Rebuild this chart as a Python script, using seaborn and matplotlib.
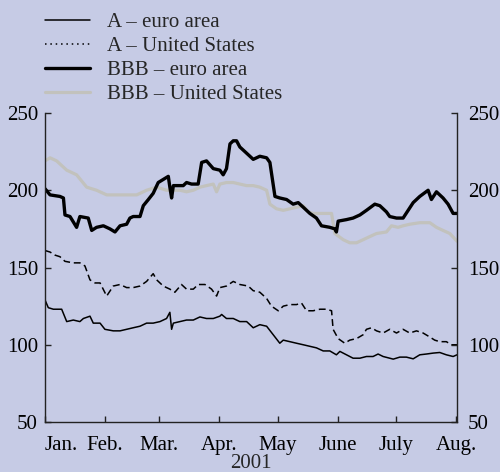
import numpy as np
import pandas as pd
import matplotlib
matplotlib.use("Agg")
import matplotlib.pyplot as plt
from matplotlib.lines import Line2D
import seaborn as sns

# ---------------- data (days after 1 Jan 2001, basis points) ----------------
bbb_ea_day = [0, 2.6, 7.7, 9.5, 10.3, 12.9, 16.3, 18, 22.3, 24.1, 26.6, 30.1, 33.5, 36.1, 38.7,
              42.1, 43.8, 45.5, 49, 50.7, 53.3, 55.8, 58.4, 61, 63.6, 64.4, 65.3, 66.2, 67.9,
              71.3, 73, 75.6, 79, 80.8, 83.3, 86.8, 90.2, 91.9, 93.6, 95.4, 97.1, 98.8, 100.5,
              103.1, 107.4, 110.8, 114.3, 116, 118.6, 121.1, 124.6, 128, 130.6, 133.2, 136.6,
              140, 142.6, 146.9, 149.5, 150.3, 151.2, 155.5, 158.9, 162.4, 165.8, 170.1, 172.7,
              176.1, 177.8, 181.3, 184.7, 187.3, 189.9, 193.3, 197.6, 199.3, 201.9, 205.3,
              207.9, 210.5, 212.5]
bbb_ea_val = [201, 197, 196, 195, 184, 183, 176, 183, 182, 174, 176, 177, 175, 173, 177,
              178, 182, 183, 183, 190, 194, 198, 205, 207, 209, 202, 195, 203, 203,
              203, 205, 204, 204, 218, 219, 214, 213, 210, 214, 230, 232, 232, 228,
              225, 220, 222, 221, 218, 196, 195, 194, 191, 192, 189, 185,
              182, 177, 176, 175, 173, 180, 181, 182, 184, 187, 191, 190,
              186, 183, 182, 182, 187, 192, 196, 200, 194, 199, 195,
              191, 185, 185]

bbb_us_day = [0, 2.6, 6, 11.2, 16.3, 21.5, 26.6, 31.8, 36.9, 42.1, 47.3, 52.4, 57.6, 62.7,
              66.2, 69.6, 73, 76.5, 79.9, 83.3, 86.8, 88.5, 90.2, 93.6, 97.1, 100.5, 104,
              107.4, 110.8, 114.3, 116, 119.4, 122.9, 126.3, 129.7, 133.2, 135.7, 138.3,
              141.8, 145.2, 147.8, 149.5, 153.8, 157.2, 160.7, 164.1, 167.5, 171, 176.1,
              178.7, 182.1, 184.7, 188.1, 193.3, 198.5, 201.9, 205.3, 208.8, 212.5]
bbb_us_val = [219, 221, 219, 213, 210, 202, 200, 197, 197, 197, 197, 200, 202, 200,
              200, 200, 199, 200, 202, 203, 204, 199, 204, 205, 205, 204, 203,
              203, 202, 200, 191, 188, 187, 188, 189, 190, 186, 185,
              185, 185, 185, 172, 168, 166, 166, 168, 170, 172, 173,
              177, 176, 177, 178, 179, 179, 176, 174, 172, 167]

a_us_day = [0, 2.6, 5.2, 7.7, 10.3, 14.6, 18, 20.6, 23.2, 25.8, 28.4, 31.8, 35.2, 38.7, 42.1,
            45.5, 49, 52.4, 55.8, 57.6, 61, 64.4, 67, 70.4, 73, 76.5, 79, 82.5, 85.9, 88.5,
            90.2, 93.6, 97.1, 100.5, 104.8, 107.4, 110.8, 114.3, 116.8, 120.3, 122.9, 126.3,
            129.7, 132.3, 134.9, 138.3, 141.8, 145.2, 147.8, 148.6, 151.2, 154.6, 157.2,
            160.7, 164.1, 165.8, 168.4, 171, 174.4, 177.8, 181.3, 184.7, 188.1, 191.6, 195,
            198.5, 201, 203.6, 207, 209.6, 212.5]
a_us_val = [161, 160, 158, 157, 154, 153, 153, 151, 142, 140, 140, 131.5, 138, 139, 137,
            137, 138, 141, 146, 142, 138, 136, 134, 139, 136, 136, 139, 139, 136, 131.5,
            137, 138, 141, 139, 138, 135, 134, 130, 125, 122, 125, 126,
            126, 127, 122, 122, 123, 123, 122, 110, 104, 101, 103,
            104, 106.5, 110, 111, 109, 107.6, 110, 107.6, 110, 107.6, 109, 107.6,
            105, 103, 102, 102, 100, 100]

a_ea_day = [0, 1.7, 4.3, 8.6, 11.2, 14.6, 18, 19.8, 23.2, 24.9, 28.4, 30.9, 35.2, 38.7, 42.1,
            45.5, 49, 52.4, 55.8, 59.3, 62.7, 64.4, 65.3, 66.2, 69.6, 73, 76.5, 79.9, 83.3,
            86.8, 90.2, 91.1, 93.6, 97.1, 100.5, 104, 107.4, 110.8, 114.3, 117.7, 121.1,
            122.9, 126.3, 129.7, 133.2, 136.6, 140, 143.5, 146.9, 150.3, 152.1, 155.5, 158.9,
            162.4, 165.8, 169.2, 171.8, 174.4, 177.8, 179.6, 183, 186.4, 189.9, 193.3, 196.7,
            200.2, 203.6, 207, 210.5, 212.5]
a_ea_val = [129, 124, 123, 123, 115, 116, 115, 117, 118.5, 114, 114, 110, 109, 109, 110,
            111, 112, 114, 114, 115, 117, 121, 110, 114, 115, 116, 116, 118, 117,
            117, 118.5, 119.6, 117, 117, 115, 115, 111, 113, 112, 106.5, 101,
            103, 102, 101, 100, 99, 98, 96, 96, 93.5, 95.7, 93.5, 91.3,
            91.3, 92.4, 92.4, 94, 92.4, 91.3, 90.7, 92, 92, 90.9, 93.5, 94,
            94.6, 95, 93.5, 92.4, 93.5]

series_labels = ["A \u2013 euro area", "A \u2013 United States",
                 "BBB \u2013 euro area", "BBB \u2013 United States"]
month_labels = ["Jan.", "Feb.", "Mar.", "Apr.", "May", "June", "July", "Aug."]
y_ticks = [50, 100, 150, 200, 250]
year_label = "2001"

# ---------------- style ----------------
BG = "#c6cbe5"
GREY = "#c2c2bd"
FS = 15
sns.set_style("white")
plt.rcParams["font.family"] = ["Liberation Serif", "DejaVu Serif"]
plt.rcParams["font.size"] = FS

base = pd.Timestamp("2001-01-01")


def to_df(days, vals):
    return pd.DataFrame({"date": base + pd.to_timedelta(np.array(days), unit="D"),
                         "value": vals})


fig = plt.figure(figsize=(5.0, 4.72), dpi=100, facecolor=BG)
ax = fig.add_axes([0.09, 0.1059, 0.824, 0.6547], facecolor=BG)

sns.lineplot(data=to_df(bbb_us_day, bbb_us_val), x="date", y="value", ax=ax,
             color=GREY, linewidth=2.3, legend=False)
sns.lineplot(data=to_df(a_us_day, a_us_val), x="date", y="value", ax=ax,
             color="black", linewidth=1.1, linestyle=(0, (4.5, 2.5)), legend=False)
sns.lineplot(data=to_df(a_ea_day, a_ea_val), x="date", y="value", ax=ax,
             color="black", linewidth=1.1, legend=False)
sns.lineplot(data=to_df(bbb_ea_day, bbb_ea_val), x="date", y="value", ax=ax,
             color="black", linewidth=2.4, legend=False)

# axes
ax.set_ylim(50, 250)
ax.set_yticks(y_ticks)
ax.set_xlim(base, base + pd.Timedelta(days=212.5))
months = [base + pd.DateOffset(months=i) for i in range(8)]
ax.set_xticks(months)
ax.set_xticklabels(month_labels)
for lbl in ax.get_xticklabels():
    lbl.set_ha("center")
ax.get_xticklabels()[0].set_ha("left")

ax.set_xlabel(year_label, labelpad=-1, fontsize=FS)
ax.set_ylabel("")

for side in ["left", "right", "bottom"]:
    ax.spines[side].set_visible(True)
    ax.spines[side].set_color("#222222")
    ax.spines[side].set_linewidth(1.0)
ax.spines["top"].set_visible(False)

ax.tick_params(axis="both", direction="in", length=4, width=1.0, color="#222222",
               labelsize=FS, labelcolor="black")
ax.tick_params(axis="y", left=True, right=False, labelleft=True, labelright=False, pad=5)
ax.tick_params(axis="x", bottom=True, pad=10)
ax.grid(False)

# right axis labels (same scale)
ax2 = ax.twinx()
ax2.set_ylim(ax.get_ylim())
ax2.set_yticks(y_ticks)
for side in ["left", "top", "bottom", "right"]:
    ax2.spines[side].set_visible(False)
ax2.tick_params(axis="y", direction="in", length=4, width=1.0, color="#222222",
                labelsize=FS, labelcolor="black", pad=8)
ax2.grid(False)

# legend
handles = [
    Line2D([], [], color="black", linewidth=1.1),
    Line2D([], [], color="black", linewidth=1.1, linestyle=(0, (1, 2.5))),
    Line2D([], [], color="black", linewidth=2.4),
    Line2D([], [], color=GREY, linewidth=2.3),
]
fig.legend(handles, series_labels, loc="upper left", bbox_to_anchor=(0.09, 0.974),
           frameon=False, borderpad=0, handlelength=2.16, handletextpad=0.82,
           labelspacing=0.22, fontsize=FS, borderaxespad=0)

fig.savefig("out.png", dpi=100, facecolor=BG)
